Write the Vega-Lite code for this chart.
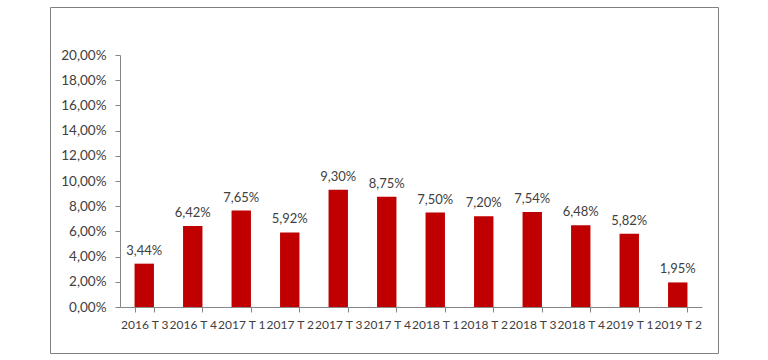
{
  "$schema": "https://vega.github.io/schema/vega-lite/v6.json",
  "width": 668,
  "height": 346,
  "autosize": "none",
  "padding": {"left": 50, "top": 7, "right": 50, "bottom": 7},
  "background": "white",
  "config": {
    "locale": {"number": {"decimal": ",", "thousands": ".", "grouping": [3], "currency": ["", " €"]}},
    "view": {"stroke": "#7f7f7f", "strokeWidth": 1},
    "font": "Lato"
  },
  "data": {
    "values": [
      {"periodo": "2016 T 3", "valor": 0.0344},
      {"periodo": "2016 T 4", "valor": 0.0642},
      {"periodo": "2017 T 1", "valor": 0.0765},
      {"periodo": "2017 T 2", "valor": 0.0592},
      {"periodo": "2017 T 3", "valor": 0.0930},
      {"periodo": "2017 T 4", "valor": 0.0875},
      {"periodo": "2018 T 1", "valor": 0.0750},
      {"periodo": "2018 T 2", "valor": 0.0720},
      {"periodo": "2018 T 3", "valor": 0.0754},
      {"periodo": "2018 T 4", "valor": 0.0648},
      {"periodo": "2019 T 1", "valor": 0.0582},
      {"periodo": "2019 T 2", "valor": 0.0195}
    ]
  },
  "encoding": {
    "x": {
      "field": "periodo",
      "type": "nominal",
      "sort": null,
      "scale": {"range": [70, 652], "paddingInner": 0.6, "paddingOuter": 0.3},
      "axis": {
        "title": null,
        "labelAngle": 0,
        "offset": -46,
        "tickBand": "extent",
        "domainColor": "#868686",
        "tickColor": "#868686",
        "tickSize": 5,
        "labelFontSize": 12,
        "labelColor": "#404040",
        "labelPadding": 7,
        "labelOverlap": false,
        "labelFont": "Lato"
      }
    },
    "y": {
      "field": "valor",
      "type": "quantitative",
      "scale": {"domain": [0, 0.2], "range": [300, 48], "nice": false},
      "axis": {
        "title": null,
        "values": [0, 0.02, 0.04, 0.06, 0.08, 0.1, 0.12, 0.14, 0.16, 0.18, 0.2],
        "format": ".2%",
        "offset": -70,
        "grid": false,
        "domainColor": "#868686",
        "tickColor": "#868686",
        "tickSize": 5,
        "labelFontSize": 13.5,
        "labelColor": "#404040",
        "labelPadding": 9,
        "labelFont": "Lato"
      }
    }
  },
  "layer": [
    {"mark": {"type": "bar", "color": "#C00000"}},
    {
      "mark": {"type": "text", "baseline": "bottom", "dy": -6, "fontSize": 13, "color": "#404040", "font": "Lato"},
      "encoding": {"text": {"field": "valor", "type": "quantitative", "format": ".2%"}}
    }
  ]
}
